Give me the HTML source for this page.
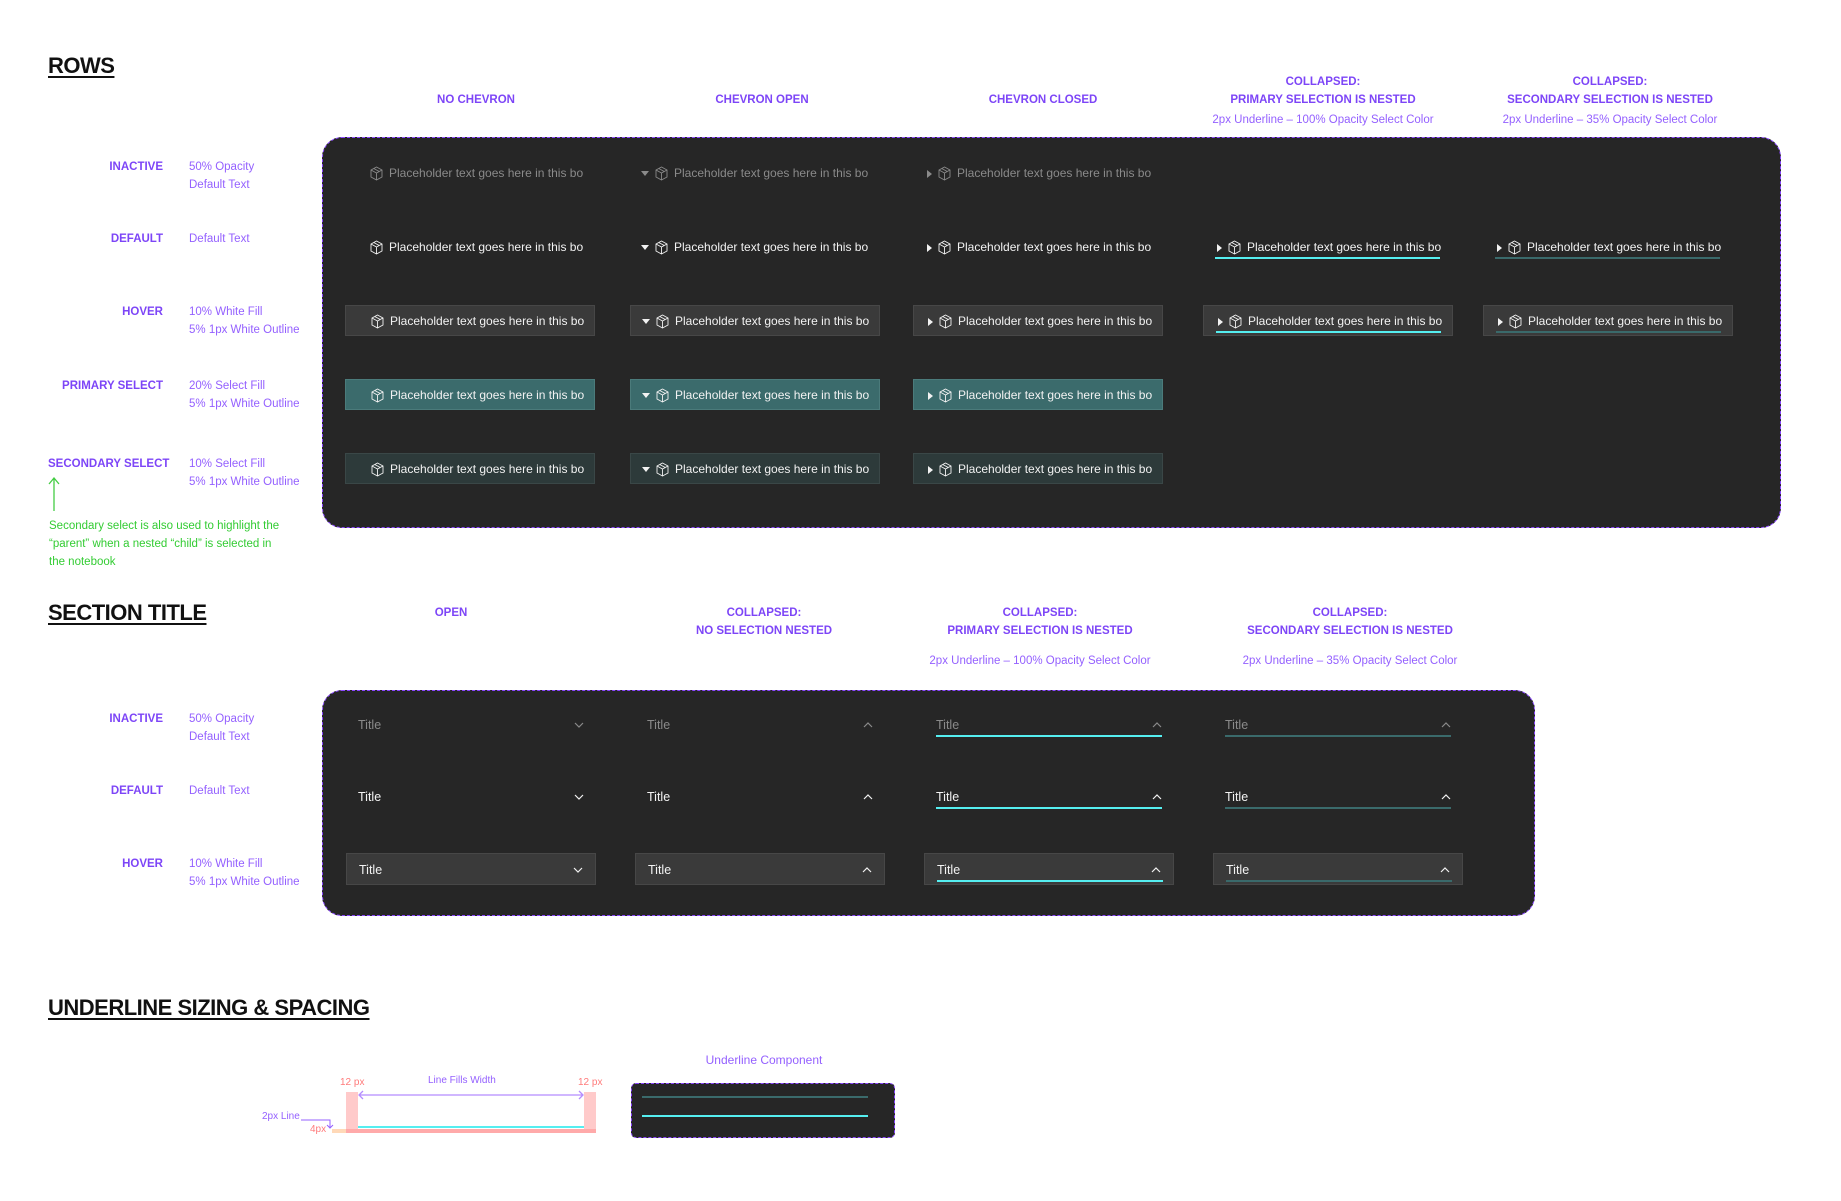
<!DOCTYPE html>
<html><head><meta charset="utf-8">
<style>
*{margin:0;padding:0}
body{width:1841px;height:1201px;background:#fff;position:relative;overflow:hidden;font-family:"Liberation Sans",sans-serif}
.a{position:absolute;white-space:nowrap}
.h1{font-size:22px;font-weight:bold;color:#111;text-decoration:underline;text-decoration-thickness:2px;text-underline-offset:3px;letter-spacing:-0.5px}
.ch{font-size:11.5px;font-weight:bold;color:#7d45f7;text-align:center;line-height:18px;transform:translateX(-50%)}
.cs{font-size:11.5px;color:#9460ff;text-align:center;transform:translateX(-50%)}
.lb{font-size:11.5px;font-weight:bold;color:#7d45f7;text-align:right;line-height:18px}
.ds{font-size:11.5px;color:#9460ff;line-height:18px}
.panel{position:absolute;background:#262626;border:1.5px dashed #8a45ff;border-radius:20px;box-sizing:border-box}
.box{position:absolute;width:250px;height:31px;box-sizing:border-box;font-size:12px;color:#f2f2f2}
.box .t{position:absolute;left:44px;top:0;line-height:31px;white-space:nowrap}
.box svg.c{position:absolute;left:25px;top:8px}
.box.in{color:#8a8a8a}
.hv{background:#3a3a3a;border:1px solid #474747}
.ps{background:#3b6b6c;border:1px solid #4b7b7b}
.ss{background:#2d3a3a;border:1px solid #3a4747}
.tr{position:absolute;left:14px;top:12px;width:0;height:0;border-top:4px solid transparent;border-bottom:4px solid transparent;border-left:5px solid currentColor}
.td{position:absolute;left:11px;top:13px;width:0;height:0;border-left:4px solid transparent;border-right:4px solid transparent;border-top:5px solid currentColor}
.ul{position:absolute;left:12px;width:225px;top:25px;height:2px}
.u1{background:#55eef0}
.u2{background:#3a6a6b}
.sb{position:absolute;width:250px;height:32px;box-sizing:border-box;font-size:12.5px;color:#f2f2f2}
.sb.in{color:#8a8a8a}
.sb .t{position:absolute;left:12px;top:0;line-height:32px}
.sb svg{position:absolute;right:12px;top:13px}
.sb .ul{top:26px;width:226px}
.g{font-size:11.5px;color:#33cc33;line-height:18px}
</style></head><body>

<div class="a h1" style="left:48px;top:53px">ROWS</div>
<div class="a ch" style="left:476px;top:91px">NO CHEVRON</div>
<div class="a ch" style="left:762px;top:91px">CHEVRON OPEN</div>
<div class="a ch" style="left:1043px;top:91px">CHEVRON CLOSED</div>
<div class="a ch" style="left:1323px;top:73px">COLLAPSED:<br>PRIMARY SELECTION IS NESTED</div>
<div class="a cs" style="left:1323px;top:114px">2px Underline – 100% Opacity Select Color</div>
<div class="a ch" style="left:1610px;top:73px">COLLAPSED:<br>SECONDARY SELECTION IS NESTED</div>
<div class="a cs" style="left:1610px;top:114px">2px Underline – 35% Opacity Select Color</div>

<div class="a lb" style="right:1678px;top:158px">INACTIVE</div>
<div class="a ds" style="left:189px;top:158px">50% Opacity<br>Default Text</div>
<div class="a lb" style="right:1678px;top:230px">DEFAULT</div>
<div class="a ds" style="left:189px;top:230px">Default Text</div>
<div class="a lb" style="right:1678px;top:303px">HOVER</div>
<div class="a ds" style="left:189px;top:303px">10% White Fill<br>5% 1px White Outline</div>
<div class="a lb" style="right:1678px;top:377px">PRIMARY SELECT</div>
<div class="a ds" style="left:189px;top:377px">20% Select Fill<br>5% 1px White Outline</div>
<div class="a lb" style="left:48px;top:455px">SECONDARY SELECT</div>
<div class="a ds" style="left:189px;top:455px">10% Select Fill<br>5% 1px White Outline</div>
<svg class="a" style="left:47px;top:476px" width="14" height="36"><path d="M7 35V2M2 8L7 2L12 8" stroke="#44cc44" stroke-width="1.3" fill="none"/></svg>
<div class="a g" style="left:49px;top:517px">Secondary select is also used to highlight the<br>“parent” when a nested “child” is selected in<br>the notebook</div>

<div class="panel" style="left:322px;top:137px;width:1459px;height:391px"></div>

<svg width="0" height="0" style="position:absolute"><defs><g id="cube"><path d="M6.5 1L12 4V11L6.5 14L1 11V4Z M1 4L6.5 7L12 4 M6.5 7V14 M3.7 2.5L9.3 5.5" fill="none" stroke="currentColor" stroke-width="0.9"/></g></defs></svg>

<div class="box in" style="left:345px;top:158px"><svg class="c" width="13" height="15"><use href="#cube"/></svg><span class="t">Placeholder text goes here in this bo</span></div>
<div class="box in" style="left:630px;top:158px"><span class="td"></span><svg class="c" width="13" height="15"><use href="#cube"/></svg><span class="t">Placeholder text goes here in this bo</span></div>
<div class="box in" style="left:913px;top:158px"><span class="tr"></span><svg class="c" width="13" height="15"><use href="#cube"/></svg><span class="t">Placeholder text goes here in this bo</span></div>

<div class="box" style="left:345px;top:232px"><svg class="c" width="13" height="15"><use href="#cube"/></svg><span class="t">Placeholder text goes here in this bo</span></div>
<div class="box" style="left:630px;top:232px"><span class="td"></span><svg class="c" width="13" height="15"><use href="#cube"/></svg><span class="t">Placeholder text goes here in this bo</span></div>
<div class="box" style="left:913px;top:232px"><span class="tr"></span><svg class="c" width="13" height="15"><use href="#cube"/></svg><span class="t">Placeholder text goes here in this bo</span></div>
<div class="box" style="left:1203px;top:232px"><span class="tr"></span><svg class="c" width="13" height="15"><use href="#cube"/></svg><span class="t">Placeholder text goes here in this bo</span><span class="ul u1"></span></div>
<div class="box" style="left:1483px;top:232px"><span class="tr"></span><svg class="c" width="13" height="15"><use href="#cube"/></svg><span class="t">Placeholder text goes here in this bo</span><span class="ul u2"></span></div>

<div class="box hv" style="left:345px;top:305px"><svg class="c" width="13" height="15"><use href="#cube"/></svg><span class="t">Placeholder text goes here in this bo</span></div>
<div class="box hv" style="left:630px;top:305px"><span class="td"></span><svg class="c" width="13" height="15"><use href="#cube"/></svg><span class="t">Placeholder text goes here in this bo</span></div>
<div class="box hv" style="left:913px;top:305px"><span class="tr"></span><svg class="c" width="13" height="15"><use href="#cube"/></svg><span class="t">Placeholder text goes here in this bo</span></div>
<div class="box hv" style="left:1203px;top:305px"><span class="tr"></span><svg class="c" width="13" height="15"><use href="#cube"/></svg><span class="t">Placeholder text goes here in this bo</span><span class="ul u1"></span></div>
<div class="box hv" style="left:1483px;top:305px"><span class="tr"></span><svg class="c" width="13" height="15"><use href="#cube"/></svg><span class="t">Placeholder text goes here in this bo</span><span class="ul u2"></span></div>

<div class="box ps" style="left:345px;top:379px"><svg class="c" width="13" height="15"><use href="#cube"/></svg><span class="t">Placeholder text goes here in this bo</span></div>
<div class="box ps" style="left:630px;top:379px"><span class="td"></span><svg class="c" width="13" height="15"><use href="#cube"/></svg><span class="t">Placeholder text goes here in this bo</span></div>
<div class="box ps" style="left:913px;top:379px"><span class="tr"></span><svg class="c" width="13" height="15"><use href="#cube"/></svg><span class="t">Placeholder text goes here in this bo</span></div>

<div class="box ss" style="left:345px;top:453px"><svg class="c" width="13" height="15"><use href="#cube"/></svg><span class="t">Placeholder text goes here in this bo</span></div>
<div class="box ss" style="left:630px;top:453px"><span class="td"></span><svg class="c" width="13" height="15"><use href="#cube"/></svg><span class="t">Placeholder text goes here in this bo</span></div>
<div class="box ss" style="left:913px;top:453px"><span class="tr"></span><svg class="c" width="13" height="15"><use href="#cube"/></svg><span class="t">Placeholder text goes here in this bo</span></div>

<div class="a h1" style="left:48px;top:600px">SECTION TITLE</div>
<div class="a ch" style="left:451px;top:604px">OPEN</div>
<div class="a ch" style="left:764px;top:604px">COLLAPSED:<br>NO SELECTION NESTED</div>
<div class="a ch" style="left:1040px;top:604px">COLLAPSED:<br>PRIMARY SELECTION IS NESTED</div>
<div class="a cs" style="left:1040px;top:655px">2px Underline – 100% Opacity Select Color</div>
<div class="a ch" style="left:1350px;top:604px">COLLAPSED:<br>SECONDARY SELECTION IS NESTED</div>
<div class="a cs" style="left:1350px;top:655px">2px Underline – 35% Opacity Select Color</div>

<div class="a lb" style="right:1678px;top:710px">INACTIVE</div>
<div class="a ds" style="left:189px;top:710px">50% Opacity<br>Default Text</div>
<div class="a lb" style="right:1678px;top:782px">DEFAULT</div>
<div class="a ds" style="left:189px;top:782px">Default Text</div>
<div class="a lb" style="right:1678px;top:855px">HOVER</div>
<div class="a ds" style="left:189px;top:855px">10% White Fill<br>5% 1px White Outline</div>

<div class="panel" style="left:322px;top:690px;width:1213px;height:226px"></div>

<svg width="0" height="0" style="position:absolute"><defs><path id="dn" d="M1 1L5 5L9 1" fill="none" stroke="currentColor" stroke-width="1.2"/><path id="up" d="M1 5L5 1L9 5" fill="none" stroke="currentColor" stroke-width="1.2"/></defs></svg>

<div class="sb in" style="left:346px;top:709px"><span class="t">Title</span><svg width="10" height="6"><use href="#dn"/></svg></div>
<div class="sb in" style="left:635px;top:709px"><span class="t">Title</span><svg width="10" height="6"><use href="#up"/></svg></div>
<div class="sb in" style="left:924px;top:709px"><span class="t">Title</span><svg width="10" height="6"><use href="#up"/></svg><span class="ul u1"></span></div>
<div class="sb in" style="left:1213px;top:709px"><span class="t">Title</span><svg width="10" height="6"><use href="#up"/></svg><span class="ul u2"></span></div>

<div class="sb" style="left:346px;top:781px"><span class="t">Title</span><svg width="10" height="6"><use href="#dn"/></svg></div>
<div class="sb" style="left:635px;top:781px"><span class="t">Title</span><svg width="10" height="6"><use href="#up"/></svg></div>
<div class="sb" style="left:924px;top:781px"><span class="t">Title</span><svg width="10" height="6"><use href="#up"/></svg><span class="ul u1"></span></div>
<div class="sb" style="left:1213px;top:781px"><span class="t">Title</span><svg width="10" height="6"><use href="#up"/></svg><span class="ul u2"></span></div>

<div class="sb hv" style="left:346px;top:853px"><span class="t">Title</span><svg width="10" height="6"><use href="#dn"/></svg></div>
<div class="sb hv" style="left:635px;top:853px"><span class="t">Title</span><svg width="10" height="6"><use href="#up"/></svg></div>
<div class="sb hv" style="left:924px;top:853px"><span class="t">Title</span><svg width="10" height="6"><use href="#up"/></svg><span class="ul u1"></span></div>
<div class="sb hv" style="left:1213px;top:853px"><span class="t">Title</span><svg width="10" height="6"><use href="#up"/></svg><span class="ul u2"></span></div>

<div class="a h1" style="left:48px;top:995px">UNDERLINE SIZING &amp; SPACING</div>
<div class="a cs" style="left:764px;top:1053px;font-size:12px">Underline Component</div>

<div class="panel" style="left:631px;top:1083px;width:264px;height:55px;border-radius:5px"></div>
<div class="a" style="left:642px;top:1096px;width:226px;height:2px;background:#3a6a6b"></div>
<div class="a" style="left:642px;top:1115px;width:226px;height:2px;background:#55eef0"></div>

<div class="a" style="left:346px;top:1092px;width:12px;height:41px;background:#ffcaca"></div>
<div class="a" style="left:584px;top:1092px;width:12px;height:41px;background:#ffcaca"></div>
<div class="a" style="left:332px;top:1129px;width:14px;height:4px;background:#ffd9b8"></div>
<div class="a" style="left:346px;top:1129px;width:250px;height:4px;background:#ffaaaa"></div>
<div class="a" style="left:358px;top:1126px;width:226px;height:2px;background:#55eef0"></div>
<svg class="a" style="left:356px;top:1090px" width="230" height="10"><path d="M3 5H227M7 1L3 5L7 9M223 1L227 5L223 9" stroke="#b48cff" stroke-width="1.3" fill="none"/></svg>
<div class="a" style="left:340px;top:1077px;font-size:10px;color:#ff7b7b">12 px</div>
<div class="a" style="left:578px;top:1077px;font-size:10px;color:#ff7b7b">12 px</div>
<div class="a" style="left:428px;top:1075px;font-size:10px;color:#9460ff">Line Fills Width</div>
<div class="a" style="left:262px;top:1111px;font-size:10px;color:#9460ff">2px Line</div>
<svg class="a" style="left:300px;top:1116px" width="36" height="14"><path d="M1 4H30V12M27 9L30 12L33 9" stroke="#9460ff" stroke-width="1" fill="none"/></svg>
<div class="a" style="left:310px;top:1124px;font-size:10px;color:#ff7b7b">4px</div>

</body></html>
